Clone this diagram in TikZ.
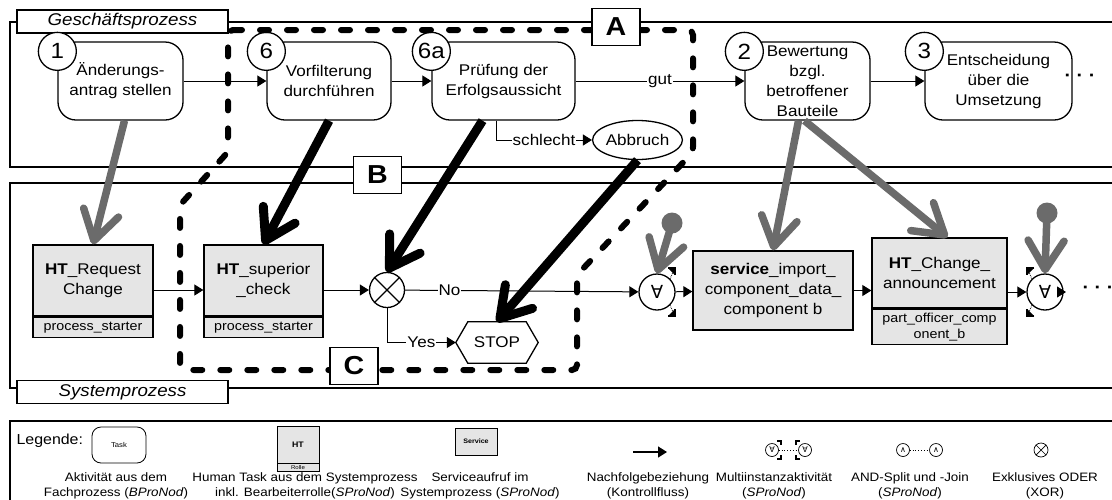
\documentclass[tikz,border=0pt]{standalone}
\usepackage{fontspec}
\setmainfont{Liberation Sans}[FakeStretch=1.1]
\newfontfamily\symfont{DejaVu Sans}
\usepackage{tikz}
\usetikzlibrary{arrows.meta,positioning,calc,shapes.geometric}
\definecolor{htgray}{gray}{0.9}
\definecolor{mapgray}{gray}{0.42}
\newcommand{\fs}[2]{\fontsize{#1}{#2}\selectfont}

\begin{document}
\begin{tikzpicture}[x=1pt,y=-1pt,
    pool/.style={line width=1.2pt},
    poolname/.style={draw,line width=1.2pt,fill=white,minimum width=211pt,minimum height=23pt,inner sep=0pt,font=\fs{17}{17}\itshape},
    task/.style={draw,line width=1.3pt,rounded corners=18pt,minimum height=78pt,align=center,inner sep=2pt,font=\fs{15.5}{20}},
    num/.style={draw,circle,line width=1.3pt,fill=white,minimum size=38pt,inner sep=0pt,font=\fs{22}{22}},
    ht/.style={draw,line width=1.3pt,fill=htgray,align=center,inner sep=1pt,font=\fs{15.5}{20}},
    role/.style={draw,line width=1.3pt,fill=htgray,align=center,inner sep=1pt,font=\fs{13}{16}},
    gw/.style={draw,circle,line width=1.3pt,fill=white,minimum size=35pt,inner sep=0pt},
    flow/.style={line width=1pt,-{Triangle[length=9pt,width=11pt]}},
    lbl/.style={fill=white,inner sep=1pt,font=\fs{15.5}{15.5}},
    blackmap/.style={line width=9pt,-{Straight Barb[round,length=29pt,width=36pt]}},
    graymap/.style={blackmap,draw=mapgray,line width=7.5pt},
    region/.style={line width=6pt,line cap=round,dash pattern=on 9pt off 18pt,rounded corners=5pt},
    tag/.style={draw,line width=1.3pt,fill=white,minimum width=48pt,minimum height=37pt,inner sep=0pt,font=\fs{26}{26}\bfseries},
    legtext/.style={align=center,font=\fs{12.2}{15}},
  ]
\useasboundingbox (0,0) rectangle (1112,499);

% pools
\draw[pool] (1120,22) -- (10,22) -- (10,167) -- (1120,167);
\draw[pool] (1120,183) -- (10,183) -- (10,388) -- (1120,388);
\node[poolname] (gp) at (122.5,21.5) {Geschäftsprozess};
\node[poolname] (sp) at (122.5,392) {Systemprozess};

% Geschaeftsprozess
\node[task,minimum width=125pt] (t1) at (120.5,81) {Änderungs-\\antrag stellen};
\node[task,minimum width=124pt] (t6) at (329,81) {Vorfilterung\\durchführen};
\node[task,minimum width=143pt] (t6a) at (503.5,81) {Prüfung der\\Erfolgsaussicht};
\node[task,minimum width=125pt] (t2) at (807.5,81) {Bewertung\\bzgl.\\betroffener\\Bauteile};
\node[task,minimum width=147pt] (t3) at (998.5,81) {Entscheidung\\über die\\Umsetzung};
\node[num] (n1) at ([yshift=-10pt]t1.north west) {1};
\node[num] (n6) at ([yshift=-10pt]t6.north west) {6};
\node[num] (n6a) at ([yshift=-10pt]t6a.north west) {6a};
\node[num] (n2) at ([yshift=-10pt]t2.north west) {2};
\node[num] (n3) at ([yshift=-10pt]t3.north west) {3};
\node[draw,ellipse,line width=1.3pt,minimum width=89pt,minimum height=39pt,inner sep=0pt,font=\fs{15.5}{15.5}] (abbr) at (637.5,140) {Abbruch};

\draw[flow] (t1) -- (t6);
\draw[flow] (t6) -- (t6a);
\draw[flow] (t6a) -- node[lbl]{gut} (t2);
\draw[flow] (t2) -- (t3);
\draw[flow] ([xshift=-7.5pt]t6a.south) |- node[lbl,pos=0.75]{schlecht} (abbr);
\node[font=\fs{18}{18}\bfseries] (more1) at (1080,78) {· · ·};

% Systemprozess
\node[ht,minimum width=120pt,minimum height=71pt] (ht1) at (93,280.5) {\textbf{HT}\_Request\\Change};
\node[role,minimum width=120pt,minimum height=20pt,below=0pt of ht1] (ht1r) {process\_starter};
\node[ht,minimum width=119pt,minimum height=71pt] (ht2) at (263.5,280.5) {\textbf{HT}\_superior\\\_check};
\node[role,minimum width=119pt,minimum height=20pt,below=0pt of ht2] (ht2r) {process\_starter};
\node[ht,minimum width=160pt,minimum height=79pt] (svc) at (773,290.5) {\textbf{service}\_import\_\\component\_data\_\\component b};
\node[ht,minimum width=135pt,minimum height=70pt] (ht3) at (939.5,273) {\textbf{HT}\_Change\_\\announcement};
\node[role,minimum width=135pt,minimum height=35pt,below=0pt of ht3] (ht3r) {part\_officer\_comp\\onent\_b};

\node[gw] (xor) at (387,290) {};
\draw[line width=1.3pt] (xor.north west) -- (xor.south east) (xor.north east) -- (xor.south west);
\node[gw,minimum size=36pt,font=\fs{18}{18}\symfont] (mi1) at (657,292) {∀};
\node[gw,minimum size=36pt,font=\fs{18}{18}\symfont] (mi2) at (1045,292) {∀};
\foreach \s in {-1,1} {
  \draw[line width=2.5pt] ($(mi1)+(11,\s*24)$) -- ($(mi1)+(18,\s*24)$) -- ($(mi1)+(18,\s*17)$);
  \fill ($(mi1)+(11,\s*24)$) -- ($(mi1)+(18,\s*24)$) -- ($(mi1)+(18,\s*17)$) -- cycle;
  \draw[line width=0.8pt,densely dotted] ($(mi1)+(13,\s*13)$) -- ($(mi1)+(16,\s*20)$);
  \draw[line width=2.5pt] ($(mi2)+(-11,\s*24)$) -- ($(mi2)+(-18,\s*24)$) -- ($(mi2)+(-18,\s*17)$);
  \fill ($(mi2)+(-11,\s*24)$) -- ($(mi2)+(-18,\s*24)$) -- ($(mi2)+(-18,\s*17)$) -- cycle;
  \draw[line width=0.8pt,densely dotted] ($(mi2)+(-13,\s*13)$) -- ($(mi2)+(-16,\s*20)$);
}
\node[minimum width=82pt,minimum height=41pt,font=\fs{15.5}{15.5}] (stop) at (497,342.5) {STOP};
\draw[line width=1.3pt] ([xshift=12pt]stop.north west) -- ([xshift=-12pt]stop.north east) -- (stop.east)
  -- ([xshift=-12pt]stop.south east) -- ([xshift=12pt]stop.south west) -- (stop.west) -- cycle;

\draw[flow] (ht1.east |- xor) -- (ht2.west |- xor);
\draw[flow] (ht2.east |- xor) -- (xor);
\draw[flow] (xor) -- node[lbl,pos=0.19]{No} (mi1);
\draw[flow] (xor.south) |- node[lbl,pos=0.75]{Yes} (stop.west);
\draw[flow] (mi1) -- (svc);
\draw[flow] (svc) -- (ht3.west |- svc);
\draw[flow] (ht3.east |- mi2) -- (mi2);
\coordinate (end2) at (1066,292);
\draw[flow] (mi2) -- (end2);
\node[font=\fs{18}{18}\bfseries] (more2) at (1098,290) {· · ·};

% Bereiche A, B, C
\draw[region] (228,30) -- (693,30) -- (693,152) -- (577,275) -- (577,370) -- (180,370) -- (180,205) -- (228,152) -- cycle;
\node[tag] (tagA) at (616,27) {A};
\node[tag] (tagB) at (377.5,175) {B};
\node[tag] (tagC) at (354,366) {C};

% Zuordnung Fachprozess -> Systemprozess
\node[circle,fill=mapgray,minimum size=21pt,inner sep=0pt] (d1) at (672,223) {};
\node[circle,fill=mapgray,minimum size=21pt,inner sep=0pt] (d2) at (1047,213) {};
\draw[graymap] ([xshift=4pt]t1.south) -- (ht1.north);
\draw[blackmap] (t6.south) -- (ht2.north);
\draw[blackmap] ([xshift=-21pt]t6a.south) -- (xor.north);
\draw[blackmap] (abbr.south) -- (stop.north);
\draw[graymap] ([xshift=-9pt]t2.south) -- (svc.north);
\draw[graymap] ([xshift=-3pt]t2.south) -- ([xshift=8pt]ht3.north);
\draw[graymap] (d1.center) -- (mi1.north);
\draw[graymap] (d2.center) -- (mi2.north);

% Legende
\draw[pool] (1120,421) -- (10,421) -- (10,505);
\node[anchor=west,font=\fs{14.5}{14.5}] (leg) at (13,441) {Legende:};
\node[draw,line width=0.8pt,rounded corners=9pt,minimum width=54pt,minimum height=36pt,font=\fs{7}{7}] (lt) at (119,445) {Task};
\node[draw,line width=0.8pt,fill=htgray,minimum width=42pt,minimum height=37pt,font=\fs{8}{8}\bfseries] (lh) at (298,444.5) {HT};
\node[draw,line width=0.8pt,fill=htgray,minimum width=42pt,minimum height=8pt,inner sep=0pt,font=\fs{5.5}{5.5},below=0pt of lh] (lhr) {Rolle};
\node[draw,line width=0.8pt,fill=htgray,minimum width=42pt,minimum height=27pt,font=\fs{6.5}{6.5}\bfseries] (ls) at (476,441.5) {Service};
\coordinate (la1) at (633,452);
\coordinate (la2) at (667,452);
\draw[flow,line width=1.3pt] (la1) -- (la2);
\node[gw,minimum size=13pt,line width=0.7pt,font=\fs{8}{8}\symfont] (lm1) at (772,450) {∀};
\node[gw,minimum size=13pt,line width=0.7pt,font=\fs{8}{8}\symfont] (lm2) at (805,450) {∀};
\draw[line width=0.8pt,dotted] (lm1) -- (lm2);
\foreach \s in {-1,1} {
  \draw[line width=1.5pt] ($(lm1)+(5,\s*9)$) -- ($(lm1)+(9,\s*9)$) -- ($(lm1)+(9,\s*5)$);
  \draw[line width=1.5pt] ($(lm2)+(-5,\s*9)$) -- ($(lm2)+(-9,\s*9)$) -- ($(lm2)+(-9,\s*5)$);
}
\node[gw,minimum size=13pt,line width=0.7pt,font=\fs{8}{8}\symfont] (lu1) at (903,450) {∧};
\node[gw,minimum size=13pt,line width=0.7pt,font=\fs{8}{8}\symfont] (lu2) at (936,450) {∧};
\draw[line width=0.8pt,dotted] (lu1) -- (lu2);
\node[gw,minimum size=14pt,line width=0.7pt] (lx) at (1041,450) {};
\draw[line width=0.7pt] (lx.north west) -- (lx.south east) (lx.north east) -- (lx.south west);

\node[legtext] (lt1) at (116,486) {Aktivität aus dem\\Fachprozess (\textit{BProNod})};
\node[legtext] (lt2) at (305,486) {Human Task aus dem Systemprozess\\inkl. Bearbeiterrolle(\textit{SProNod})};
\node[legtext] (lt3) at (480,486) {Serviceaufruf im\\Systemprozess (\textit{SProNod})};
\node[legtext] (lt4) at (648,486) {Nachfolgebeziehung\\(Kontrollfluss)};
\node[legtext] (lt5) at (774,486) {Multiinstanzaktivität\\(\textit{SProNod})};
\node[legtext] (lt6) at (910,486) {AND-Split und -Join\\(\textit{SProNod})};
\node[legtext] (lt7) at (1045,486) {Exklusives ODER\\(XOR)};
\end{tikzpicture}
\end{document}
